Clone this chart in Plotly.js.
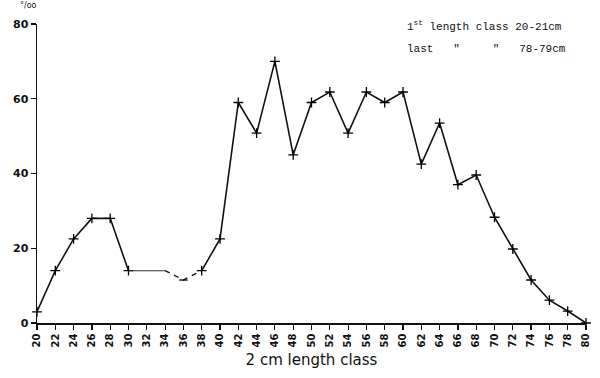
<!DOCTYPE html>
<html>
<head>
<meta charset="utf-8">
<script src="https://cdn.plot.ly/plotly-3.0.1.min.js"></script>
<style>html,body{margin:0;padding:0;background:#fff;}#chart{width:600px;height:378px;}</style>
</head>
<body>
<div id="chart"></div>
<script>
const lengthClass = [20,22,24,26,28,30,32,34,36,38,40,42,44,46,48,50,52,54,56,58,60,62,64,66,68,70,72,74,76,78,80];
const perMille   = [3,14,22.5,28,28,14,14,14,11.5,14,22.5,59,50.8,70,45,59,61.8,50.8,61.8,59,61.8,42.5,53.5,37,39.6,28.3,19.8,11.5,6.1,3.2,0];
const xTickVals = lengthClass;
const xTickText = lengthClass.map(String);
const yTickVals = [0,20,40,60,80];

function seg(a, b) {
  const i0 = lengthClass.indexOf(a), i1 = lengthClass.indexOf(b);
  return {x: lengthClass.slice(i0, i1 + 1), y: perMille.slice(i0, i1 + 1)};
}
const base = {type:'scatter', mode:'lines+markers', cliponaxis:false, hoverinfo:'skip',
  marker:{symbol:'cross-thin', size:7, line:{color:'#000', width:1.3}, color:'#000'}};
const s1 = seg(20,30), s2 = seg(30,34), s3 = seg(34,38), s4 = seg(38,80);
const traces = [
  Object.assign({}, base, s1, {line:{color:'#111', width:1.6}}),
  Object.assign({}, base, s2, {mode:'lines', line:{color:'#333', width:1.1}}),
  Object.assign({}, base, s3, {mode:'lines', line:{color:'#111', width:1.4, dash:'5px,5px'}}),
  Object.assign({}, base, s4, {line:{color:'#111', width:1.6}}),
  Object.assign({}, base, {x:[s3.x[1]], y:[s3.y[1]], mode:'markers', marker:{symbol:'line-ew', size:6, line:{color:'#000', width:1.3}}})
];

const layout = {
  width:600, height:378, showlegend:false,
  paper_bgcolor:'#fff', plot_bgcolor:'#fff',
  margin:{l:37, r:14, t:24, b:55},
  xaxis:{range:[20,80], tickvals:xTickVals, ticktext:xTickText, tickangle:-90,
    showgrid:false, zeroline:false, showline:true, linecolor:'#111', linewidth:1.5,
    ticks:'outside', ticklen:5, tickcolor:'#111', tickwidth:1.2,
    tickfont:{family:'DejaVu Sans', size:10, color:'#111', weight:'bold'},
    title:{text:'2 cm length class', standoff:8, font:{family:'DejaVu Sans', size:15, color:'#111'}}},
  yaxis:{range:[0,80], tickvals:yTickVals, showgrid:false, zeroline:false,
    showline:true, linecolor:'#111', linewidth:1.5,
    ticks:'outside', ticklen:5, tickcolor:'#111', tickwidth:1.2,
    tickfont:{family:'DejaVu Sans', size:11, color:'#111', weight:'bold'}},
  annotations:[
    {xref:'paper', yref:'paper', x:-0.035, y:1.04, xanchor:'left', yanchor:'bottom', showarrow:false,
     text:'°/oo', font:{family:'DejaVu Sans', size:8, color:'#111'}},
    {xref:'paper', yref:'paper', x:0.67, y:0.993, xanchor:'left', yanchor:'middle', showarrow:false, align:'left',
     text:'1<sup>st</sup> length class 20-21cm', font:{family:'Liberation Mono', size:11, color:'#111'}},
    {xref:'paper', yref:'paper', x:0.67, y:0.918, xanchor:'left', yanchor:'middle', showarrow:false, align:'left',
     text:'last   "     "   78-79cm', font:{family:'Liberation Mono', size:11, color:'#111'}}
  ]
};
Plotly.newPlot('chart', traces, layout, {displayModeBar:false, staticPlot:true});
</script>
</body>
</html>
